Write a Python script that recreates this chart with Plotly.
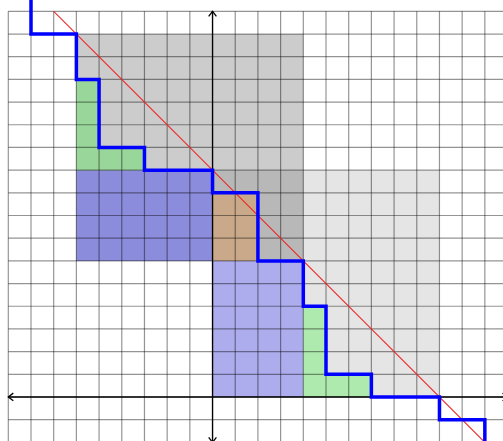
import plotly.graph_objects as go

# ---- data ----
grid_x_min, grid_x_max = -9, 13
grid_y_min, grid_y_max = -2, 17

# staircase path (corner points)
stair_x = [-8, -8, -6, -6, -5, -5, -3, -3, 0, 0, 2, 2, 4, 4, 5, 5, 7, 7, 10, 10, 12, 12]
stair_y = [18, 16, 16, 14, 14, 11, 11, 10, 10, 9, 9, 6, 6, 4, 4, 1, 1, 0, 0, -1, -1, -3]

# diagonal line y = 10 - x
diag_x = [-7, 12]
diag_y = [17, -2]

# filled regions
dark_gray_x = [-6, 4, 4, -6]
dark_gray_y = [6, 6, 16, 16]
light_gray_x = [0, 10, 10, 0]
light_gray_y = [0, 0, 10, 10]
overlap_x = [0, 4, 4, 0]
overlap_y = [6, 6, 10, 10]
blue_dark_x = [-6, 0, 0, -6]
blue_dark_y = [6, 6, 10, 10]
blue_light_x = [0, 4, 4, 0]
blue_light_y = [0, 0, 6, 6]
brown_x = [0, 2, 2, 0]
brown_y = [6, 6, 9, 9]
green_up_x = [-6, -5, -5, -3, -3, -6]
green_up_y = [14, 14, 11, 11, 10, 10]
green_low_x = [4, 5, 5, 7, 7, 4]
green_low_y = [4, 4, 1, 1, 0, 0]

regions = [
    (dark_gray_x, dark_gray_y, "#cccccc"),
    (light_gray_x, light_gray_y, "#e5e5e5"),
    (overlap_x, overlap_y, "#b8b8b8"),
    (blue_dark_x, blue_dark_y, "#8c8cdc"),
    (blue_light_x, blue_light_y, "#adadee"),
    (brown_x, brown_y, "#c9a98a"),
    (green_up_x, green_up_y, "#99d699"),
    (green_low_x, green_low_y, "#aeeaae"),
]

arrow_len = 0.22
arrow_half = 0.17

fig = go.Figure()

for xs, ys, col in regions:
    fig.add_trace(go.Scatter(
        x=xs + [xs[0]], y=ys + [ys[0]], mode="lines", fill="toself",
        fillcolor=col, line=dict(width=0, color=col), hoverinfo="skip",
        showlegend=False))

# grid
gx, gy = [], []
for i in range(grid_x_min, grid_x_max + 1):
    gx += [i, i, None]
    gy += [grid_y_min, grid_y_max, None]
for j in range(grid_y_min, grid_y_max + 1):
    gx += [grid_x_min, grid_x_max, None]
    gy += [j, j, None]
fig.add_trace(go.Scatter(x=gx, y=gy, mode="lines",
                         line=dict(color="rgba(0,0,0,0.42)", width=1.2),
                         hoverinfo="skip", showlegend=False))

# axes with open arrow heads at both ends
ax_x = [grid_x_min, grid_x_max, None, 0, 0, None]
ax_y = [0, 0, None, grid_y_min, grid_y_max, None]
ax_x += [grid_x_min + arrow_len, grid_x_min, grid_x_min + arrow_len, None]
ax_y += [arrow_half, 0, -arrow_half, None]
ax_x += [grid_x_max - arrow_len, grid_x_max, grid_x_max - arrow_len, None]
ax_y += [arrow_half, 0, -arrow_half, None]
ax_x += [-arrow_half, 0, arrow_half, None]
ax_y += [grid_y_max - arrow_len, grid_y_max, grid_y_max - arrow_len, None]
ax_x += [-arrow_half, 0, arrow_half, None]
ax_y += [grid_y_min + arrow_len, grid_y_min, grid_y_min + arrow_len, None]
fig.add_trace(go.Scatter(x=ax_x, y=ax_y, mode="lines",
                         line=dict(color="black", width=1.3),
                         hoverinfo="skip", showlegend=False))

# diagonal
fig.add_trace(go.Scatter(x=diag_x, y=diag_y, mode="lines",
                         line=dict(color="rgb(240,40,40)", width=1.1),
                         hoverinfo="skip", showlegend=False))

# staircase
fig.add_trace(go.Scatter(x=stair_x, y=stair_y, mode="lines",
                         line=dict(color="#0000ff", width=3.5),
                         hoverinfo="skip", showlegend=False))

fig.update_layout(
    width=503, height=441,
    margin=dict(l=0, r=0, t=0, b=0),
    paper_bgcolor="white", plot_bgcolor="white",
    xaxis=dict(range=[-9.366, 12.80], visible=False, showgrid=False, zeroline=False),
    yaxis=dict(range=[-1.94, 17.50], visible=False, showgrid=False, zeroline=False),
    showlegend=False,
    hovermode=False,
)

fig.write_html(
    "out.html",
    config={"displayModeBar": False, "staticPlot": True},
    post_script="document.body.style.margin='0';document.body.style.overflow='hidden';",
)
